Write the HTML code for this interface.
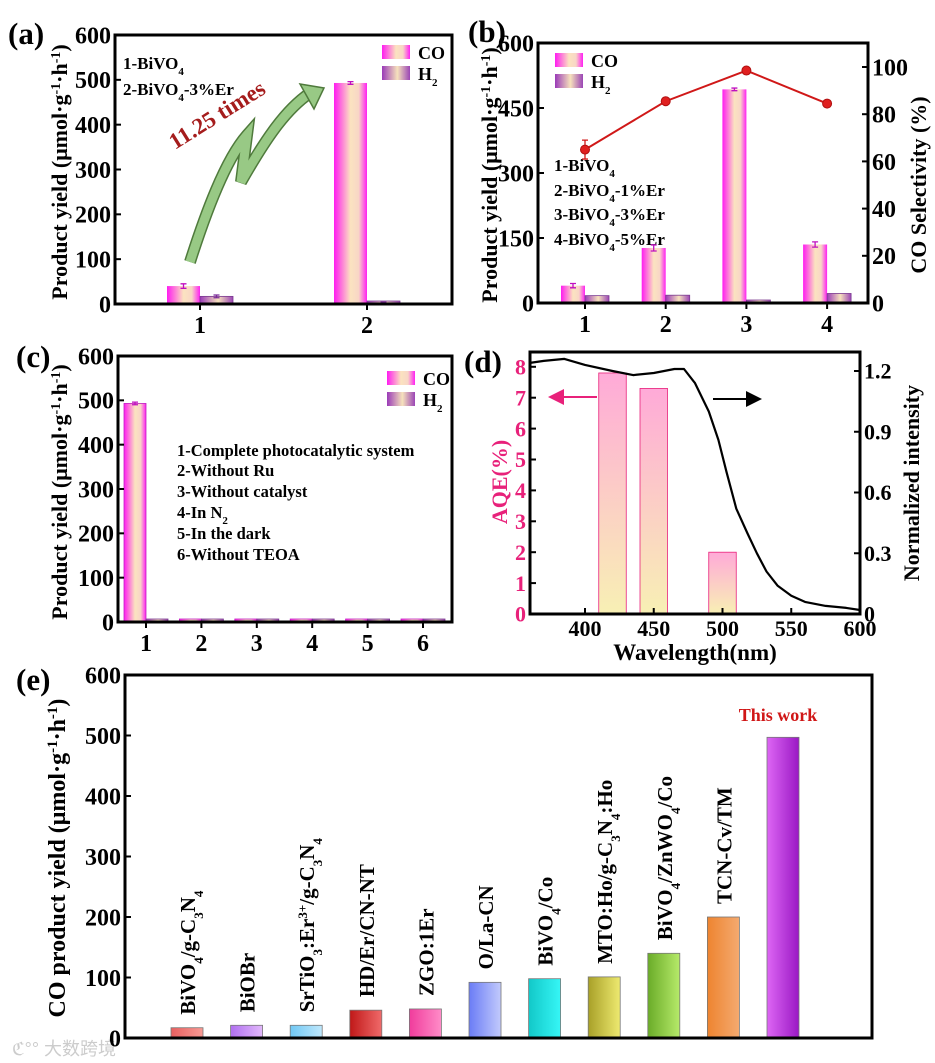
<!DOCTYPE html>
<html><head><meta charset="utf-8"><style>
html,body{margin:0;padding:0;background:#fff;}
svg{display:block;font-family:"Liberation Serif",serif;font-weight:bold;}
</style></head><body>
<svg id="fig" width="935" height="1063" viewBox="0 0 935 1063" xmlns="http://www.w3.org/2000/svg">
<defs>
<linearGradient id="gCO" x1="0" x2="1" y1="0" y2="0"><stop offset="0" stop-color="#ff1cf0"/><stop offset="0.5" stop-color="#fbe3c0"/><stop offset="0.75" stop-color="#f8d6c6"/><stop offset="1" stop-color="#ff20f2"/></linearGradient>
<linearGradient id="gH2" x1="0" x2="1" y1="0" y2="0"><stop offset="0" stop-color="#9a3ab8"/><stop offset="0.55" stop-color="#f6e2bc"/><stop offset="1" stop-color="#9b45b5"/></linearGradient>
<linearGradient id="gAQE" x1="0" x2="0" y1="0" y2="1"><stop offset="0" stop-color="#ffaad8"/><stop offset="1" stop-color="#f8f0b4"/></linearGradient>
<marker id="arrP" markerWidth="8" markerHeight="8" refX="6" refY="4" orient="auto"><path d="M0,0 L8,4 L0,8 Z" fill="#e8217a"/></marker>
<marker id="arrK" markerWidth="8" markerHeight="8" refX="6" refY="4" orient="auto"><path d="M0,0 L8,4 L0,8 Z" fill="#000"/></marker>
</defs>

<text x="8" y="44" font-size="31">(a)</text>
<text x="468" y="42" font-size="31">(b)</text>
<text x="16" y="367" font-size="31">(c)</text>
<text x="464" y="372" font-size="31">(d)</text>
<text x="16" y="690" font-size="31">(e)</text>

<text transform="translate(67,172) rotate(-90)" text-anchor="middle" font-size="22">Product yield (μmol·g<tspan baseline-shift="super" font-size="14">-1</tspan>·h<tspan baseline-shift="super" font-size="14">-1</tspan>)</text>
<text transform="translate(497,175) rotate(-90)" text-anchor="middle" font-size="22">Product yield (μmol·g<tspan baseline-shift="super" font-size="14">-1</tspan>·h<tspan baseline-shift="super" font-size="14">-1</tspan>)</text>
<text transform="translate(926,185) rotate(-90)" text-anchor="middle" font-size="22">CO Selectivity (%)</text>
<text transform="translate(67,492) rotate(-90)" text-anchor="middle" font-size="22">Product yield (μmol·g<tspan baseline-shift="super" font-size="14">-1</tspan>·h<tspan baseline-shift="super" font-size="14">-1</tspan>)</text>
<text transform="translate(507,482) rotate(-90)" text-anchor="middle" font-size="22" fill="#e8217a">AQE(%)</text>
<text transform="translate(919,483) rotate(-90)" text-anchor="middle" font-size="22">Normalized intensity</text>
<text x="695" y="660" text-anchor="middle" font-size="23">Wavelength(nm)</text>
<text transform="translate(65,858) rotate(-90)" text-anchor="middle" font-size="24">CO product yield (μmol·g<tspan baseline-shift="super" font-size="15">-1</tspan>·h<tspan baseline-shift="super" font-size="15">-1</tspan>)</text>

<text x="123" y="69" font-size="17">1-BiVO<tspan baseline-shift="sub" font-size="11">4</tspan></text>
<text x="123" y="95" font-size="17">2-BiVO<tspan baseline-shift="sub" font-size="11">4</tspan>-3%Er</text>
<path d="M190,262 C205,215 225,160 247,135 L241,182 C265,140 285,110 310,93" fill="none" stroke="#4f7a3c" stroke-width="12" stroke-linejoin="miter"/>
<path d="M190,262 C205,215 225,160 247,135 L241,182 C265,140 285,110 310,93" fill="none" stroke="#98c985" stroke-width="9" stroke-linejoin="miter"/>
<polygon points="300,84 324,88 314,109" fill="#98c985" stroke="#4f7a3c" stroke-width="1.5"/>
<text transform="translate(175,150) rotate(-32)" font-size="23" fill="#a51c1c">11.25 times</text>

<text x="554" y="171" font-size="17">1-BiVO<tspan baseline-shift="sub" font-size="11">4</tspan></text>
<text x="554" y="196" font-size="17">2-BiVO<tspan baseline-shift="sub" font-size="11">4</tspan>-1%Er</text>
<text x="554" y="220" font-size="17">3-BiVO<tspan baseline-shift="sub" font-size="11">4</tspan>-3%Er</text>
<text x="554" y="245" font-size="17">4-BiVO<tspan baseline-shift="sub" font-size="11">4</tspan>-5%Er</text>

<text x="177" y="456" font-size="16.5">1-Complete photocatalytic system</text>
<text x="177" y="476" font-size="16.5">2-Without Ru</text>
<text x="177" y="497" font-size="16.5">3-Without catalyst</text>
<text x="177" y="518" font-size="16.5">4-In N<tspan baseline-shift="sub" font-size="11">2</tspan></text>
<text x="177" y="539" font-size="16.5">5-In the dark</text>
<text x="177" y="560" font-size="16.5">6-Without TEOA</text>

<line x1="597" y1="397" x2="552" y2="397" stroke="#e8217a" stroke-width="2" marker-end="url(#arrP)"/>
<line x1="713" y1="399" x2="758" y2="399" stroke="#000" stroke-width="2" marker-end="url(#arrK)"/>

<text x="778" y="721" text-anchor="middle" font-size="18" fill="#d01616">This work</text>

<text x="12" y="1055" font-size="18" fill="#ccc" font-weight="normal" font-family="'Liberation Sans','Noto Sans CJK SC',sans-serif">ℭ°° 大数跨境</text>

<g id="marks"></g>
</svg>
<script>
const aCats = ["1", "2"];
const aCO = [40, 493];
const aH2 = [17, 3];
const aCOerr = [5, 3];
const aH2err = [3, 1];

const bCats = ["1", "2", "3", "4"];
const bCO = [40, 127, 493, 135];
const bH2 = [17, 18, 3, 22];
const bCOerr = [5, 7, 3, 6];
const bSel = [65, 85.5, 98.5, 84.5];
const bSelErr = [4, 1, 1, 1];

const cCats = ["1", "2", "3", "4", "5", "6"];
const cCO = [493, 4, 2, 2, 2, 4];
const cH2 = [5, 2, 2, 3, 2, 2];

const dWl = [420, 450, 500];
const dAQE = [7.8, 7.3, 2.0];
const dCurveX = [360, 370, 385, 400, 420, 435, 450, 465, 472, 480, 490, 497, 503, 510, 518, 525, 532, 540, 550, 560, 575, 590, 600];
const dCurveY = [1.24, 1.25, 1.26, 1.23, 1.2, 1.18, 1.19, 1.21, 1.21, 1.14, 1.0, 0.86, 0.7, 0.52, 0.4, 0.3, 0.21, 0.14, 0.09, 0.06, 0.04, 0.03, 0.02];
const dXTicks = [400, 450, 500, 550, 600];
const dLTicks = [0, 1, 2, 3, 4, 5, 6, 7, 8];
const dRTicks = [0, 0.3, 0.6, 0.9, 1.2];

const eCats = ["BiVO4/g-C3N4", "BiOBr", "SrTiO3:Er3+/g-C3N4", "HD/Er/CN-NT", "ZGO:1Er", "O/La-CN", "BiVO4/Co", "MTO:Ho/g-C3N4:Ho", "BiVO4/ZnWO4/Co", "TCN-Cv/TM", "This work"];
const eVals = [17, 21, 21, 46, 48, 92, 98, 101, 140, 200, 497];
const eLabelsHtml = [
 'BiVO<tspan baseline-shift="sub" font-size="13">4</tspan>/g-C<tspan baseline-shift="sub" font-size="13">3</tspan>N<tspan baseline-shift="sub" font-size="13">4</tspan>',
 'BiOBr',
 'SrTiO<tspan baseline-shift="sub" font-size="13">3</tspan>:Er<tspan baseline-shift="super" font-size="13">3+</tspan>/g-C<tspan baseline-shift="sub" font-size="13">3</tspan>N<tspan baseline-shift="sub" font-size="13">4</tspan>',
 'HD/Er/CN-NT', 'ZGO:1Er', 'O/La-CN',
 'BiVO<tspan baseline-shift="sub" font-size="13">4</tspan>/Co',
 'MTO:Ho/g-C<tspan baseline-shift="sub" font-size="13">3</tspan>N<tspan baseline-shift="sub" font-size="13">4</tspan>:Ho',
 'BiVO<tspan baseline-shift="sub" font-size="13">4</tspan>/ZnWO<tspan baseline-shift="sub" font-size="13">4</tspan>/Co',
 'TCN-Cv/TM', ''];
const eColors = [["#e86060","#f89a94"],["#b070f0","#e2b8fb"],["#70c8f4","#bfe8fc"],["#c01818","#f06a6a"],["#f03c9c","#ff8cc8"],["#6a7cf6","#c2cafc"],["#12c8c8","#36f6f6"],["#a8a028","#eeea70"],["#6aac28","#b6ea6a"],["#ee8430","#f4aa70"],["#dd66f4","#9a18c4"]];

const NS = "http://www.w3.org/2000/svg";
const root = document.getElementById("marks");
function el(tag, attrs, parent) {
  const e = document.createElementNS(NS, tag);
  for (const k in attrs) e.setAttribute(k, attrs[k]);
  (parent || root).appendChild(e);
  return e;
}
function txt(x, y, s, size, anchor, fill) {
  const t = el("text", {x: x, y: y, "font-size": size, "text-anchor": anchor || "middle", fill: fill || "#000"});
  t.textContent = s;
  return t;
}
function frame(x0, y0, x1, y1, name) {
  const r = el("rect", {x: x0, y: y0, width: x1 - x0, height: y1 - y0, fill: "none", stroke: "#000", "stroke-width": 3});
  
  
}
function yTicks(vals, yf, xAxis, dir, name, size, fill) {
  vals.forEach(v => {
    const y = yf(v);
    const l = el("line", {x1: xAxis, x2: xAxis + dir * 6, y1: y, y2: y, stroke: "#000", "stroke-width": 2});
    
    
    const t = txt(dir > 0 ? xAxis - 4 : xAxis + 4, y + size * 0.35, String(v), size, dir > 0 ? "end" : "start", fill);
    
    
  });
}
function xTicks(labels, xf, yAxis, name, size) {
  labels.forEach((s, i) => {
    const x = xf(i);
    const l = el("line", {x1: x, x2: x, y1: yAxis, y2: yAxis + 6, stroke: "#000", "stroke-width": 2});
    
    
    const t = txt(x, yAxis + size + 5, s, size);
    
    
  });
}
function bar(x, w, y0, y1, fill, name, stroke, minH) {
  const h = Math.max(minH || 0.8, Math.abs(y1 - y0));
  const r = el("rect", {x: x, y: Math.max(y0, y1) - h, width: w, height: h, fill: fill, stroke: stroke || "none", "stroke-width": 0.8});
  
  
  return r;
}
function errBar(x, yTop, yBot, color) {
  const p = el("path", {d: `M${x},${yTop}V${yBot}M${x-3},${yTop}H${x+3}M${x-3},${yBot}H${x+3}`, stroke: color, "stroke-width": 1.3, fill: "none"});
  
  
}
function legend(x, y, name) {
  const r1 = el("rect", {x: x, y: y, width: 28, height: 14, fill: "url(#gCO)"});
  
  
  const t1 = txt(x + 36, y + 14, "CO", 18, "start");
  
  
  const r2 = el("rect", {x: x, y: y + 21, width: 28, height: 14, fill: "url(#gH2)"});
  
  
  const t2 = el("text", {x: x + 36, y: y + 35, "font-size": 18});
  t2.innerHTML = 'H<tspan baseline-shift="sub" font-size="11">2</tspan>';
  
  
}

// Panel a
{
  const X0 = 115, X1 = 452, Y0 = 35, Y1 = 304;
  const y = v => Y1 - v * (Y1 - Y0) / 600;
  const x = i => 200 + i * 167;
  const w = 33;
  aCats.forEach((c, i) => {
    bar(x(i) - w, w, y(0), y(aCO[i]), "url(#gCO)", "bar-co-" + c, null, 3);
    errBar(x(i) - w / 2, y(aCO[i] + aCOerr[i]), y(aCO[i] - aCOerr[i]), "#c010c0");
    bar(x(i), w, y(0), y(aH2[i]), "url(#gH2)", "bar-h2-" + c, "#7a3a90", 3);
    errBar(x(i) + w / 2, y(aH2[i] + aH2err[i]), y(aH2[i] - aH2err[i]), "#7a2a9a");
  });
  frame(X0, Y0, X1, Y1, "plot-frame-a");
  yTicks([0, 100, 200, 300, 400, 500, 600], y, X0, 1, "y-axis-a", 24);
  xTicks(aCats, x, Y1, "x-axis-a", 24);
  legend(382, 45, "legend-a");
}

// Panel b
{
  const X0 = 538, X1 = 868, Y0 = 43, Y1 = 303;
  const y = v => Y1 - v * (Y1 - Y0) / 600;
  const yR = v => Y1 - v * 2.36;
  const x = i => 585 + i * 80.7;
  const w = 24;
  bCats.forEach((c, i) => {
    bar(x(i) - w, w, y(0), y(bCO[i]), "url(#gCO)", "bar-co-" + c, null, 3);
    errBar(x(i) - w / 2, y(bCO[i] + bCOerr[i]), y(bCO[i] - bCOerr[i]), "#c010c0");
    bar(x(i), w, y(0), y(bH2[i]), "url(#gH2)", "bar-h2-" + c, "#7a3a90", 3);
  });
  const pts = bSel.map((v, i) => x(i) + "," + yR(v)).join(" ");
  const pl = el("polyline", {points: pts, fill: "none", stroke: "#d01818", "stroke-width": 2});
  
  
  bSel.forEach((v, i) => {
    errBar(x(i), yR(v + bSelErr[i]), yR(v - bSelErr[i]), "#d01818");
    const c = el("circle", {cx: x(i), cy: yR(v), r: 4.5, fill: "#e02020", stroke: "#b01010", "stroke-width": 1});
    
    
  });
  frame(X0, Y0, X1, Y1, "plot-frame-b");
  yTicks([0, 150, 300, 450, 600], y, X0, 1, "y-axis-b", 24);
  yTicks([0, 20, 40, 60, 80, 100], yR, X1, -1, "y-axis-b-right", 24);
  xTicks(bCats, x, Y1, "x-axis-b", 24);
  legend(555, 53, "legend-b");
}

// Panel c
{
  const X0 = 118, X1 = 452, Y0 = 356, Y1 = 622;
  const y = v => Y1 - v * (Y1 - Y0) / 600;
  const x = i => 146 + i * 55.4;
  const w = 22;
  cCats.forEach((c, i) => {
    bar(x(i) - w, w, y(0), y(cCO[i]), "url(#gCO)", "bar-co-" + c, "#c020c0", 3);
    bar(x(i), w, y(0), y(cH2[i]), "url(#gH2)", "bar-h2-" + c, "#7a3a90", 3);
  });
  errBar(x(0) - w / 2, y(496), y(490), "#c010c0");
  frame(X0, Y0, X1, Y1, "plot-frame-c");
  yTicks([0, 100, 200, 300, 400, 500, 600], y, X0, 1, "y-axis-c", 24);
  xTicks(cCats, x, Y1, "x-axis-c", 24);
  legend(387, 371, "legend-c");
}

// Panel d
{
  const X0 = 530, X1 = 860, Y0 = 352, Y1 = 614;
  const x = wl => X0 + (wl - 360) * (X1 - X0) / 240;
  const yL = v => Y1 - v * 30.9;
  const yR = v => Y1 - v * 202.5;
  dWl.forEach((wl, i) => {
    bar(x(wl - 10), x(wl + 10) - x(wl - 10), yL(0), yL(dAQE[i]), "url(#gAQE)", "aqe-bar-" + wl, "#e8217a");
  });
  const d = dCurveX.map((wl, i) => (i ? "L" : "M") + x(wl).toFixed(1) + "," + yR(dCurveY[i]).toFixed(1)).join("");
  const p = el("path", {d: d, fill: "none", stroke: "#000", "stroke-width": 2.2, "stroke-linejoin": "round"});
  
  
  frame(X0, Y0, X1, Y1, "plot-frame-d");
  yTicks(dLTicks, yL, X0, 1, "y-axis-d-left", 22, "#e8217a");
  yTicks(dRTicks, yR, X1, -1, "y-axis-d-right", 22);
  dXTicks.forEach(wl => {
    const l = el("line", {x1: x(wl), x2: x(wl), y1: Y1, y2: Y1 - 6, stroke: "#000", "stroke-width": 2});
    
    
    const t = txt(x(wl), Y1 + 22, String(wl), 22);
    
    
  });
}

// Panel e
{
  const X0 = 125, X1 = 872, Y0 = 675, Y1 = 1038;
  const y = v => Y1 - v * (Y1 - Y0) / 600;
  const x = i => 187 + i * 59.6;
  const w = 32;
  eCats.forEach((c, i) => {
    const gid = "ge" + i;
    const g = el("linearGradient", {id: gid, x1: 0, x2: 1, y1: 0, y2: 0}, document.querySelector("defs"));
    el("stop", {offset: 0, "stop-color": eColors[i][0]}, g);
    el("stop", {offset: 1, "stop-color": eColors[i][1]}, g);
    bar(x(i) - w / 2, w, y(0), y(eVals[i]), "url(#" + gid + ")", "bar-" + c.toLowerCase().replace(/[^a-z0-9]+/g, "-"), "#777");
    if (eLabelsHtml[i]) {
      const t = el("text", {transform: `translate(${x(i) + 8},${y(eVals[i]) - 13}) rotate(-90)`, "font-size": 21, "text-anchor": "start"});
      t.innerHTML = eLabelsHtml[i];
      
      
    }
  });
  frame(X0, Y0, X1, Y1, "plot-frame-e");
  yTicks([0, 100, 200, 300, 400, 500, 600], y, X0, 1, "y-axis-e", 24);
}
</script>
</body></html>
